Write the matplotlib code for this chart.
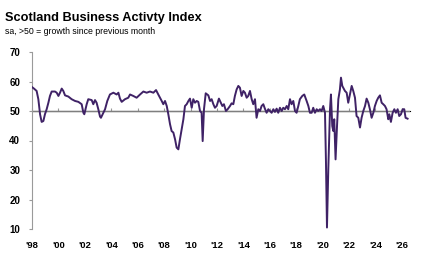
import matplotlib.pyplot as plt

# Scotland business activity index (decimal year, index value)
years = [
    1998.00, 1998.15, 1998.35, 1998.48, 1998.61, 1998.73, 1998.86, 1998.98, 1999.11, 1999.24,
    1999.36, 1999.49, 1999.74, 1999.87, 2000.00, 2000.12, 2000.25, 2000.37, 2000.50, 2000.75,
    2001.00, 2001.26, 2001.51, 2001.76, 2001.89, 2001.96, 2002.14, 2002.26, 2002.52, 2002.64,
    2002.77, 2002.89, 2003.02, 2003.15, 2003.22, 2003.35, 2003.53, 2003.70, 2003.90, 2004.16,
    2004.41, 2004.54, 2004.66, 2004.79, 2005.04, 2005.29, 2005.42, 2005.67, 2005.92, 2006.18,
    2006.43, 2006.68, 2006.93, 2007.19, 2007.39, 2007.56, 2007.82, 2007.94, 2008.07, 2008.20,
    2008.32, 2008.45, 2008.57, 2008.70, 2008.83, 2008.95, 2009.08, 2009.20, 2009.33, 2009.46,
    2009.58, 2009.71, 2009.84, 2009.96, 2010.09, 2010.21, 2010.34, 2010.47, 2010.59, 2010.72,
    2010.84, 2010.92, 2011.02, 2011.15, 2011.35, 2011.48, 2011.60, 2011.73, 2011.85, 2011.98,
    2012.15, 2012.30, 2012.41, 2012.53, 2012.68, 2012.81, 2012.99, 2013.11, 2013.24, 2013.36,
    2013.49, 2013.62, 2013.74, 2013.87, 2014.00, 2014.12, 2014.25, 2014.37, 2014.50, 2014.63,
    2014.75, 2014.88, 2015.00, 2015.13, 2015.26, 2015.38, 2015.51, 2015.63, 2015.76, 2015.89,
    2016.01, 2016.14, 2016.27, 2016.39, 2016.52, 2016.64, 2016.77, 2016.90, 2017.02, 2017.15,
    2017.28, 2017.40, 2017.53, 2017.65, 2017.78, 2017.91, 2018.03, 2018.16, 2018.28, 2018.46,
    2018.61, 2018.79, 2018.92, 2019.04, 2019.17, 2019.29, 2019.42, 2019.55, 2019.67, 2019.80,
    2019.92, 2020.05, 2020.18, 2020.25, 2020.33, 2020.43, 2020.56, 2020.63, 2020.73, 2020.81,
    2020.88, 2020.98, 2021.09, 2021.19, 2021.31, 2021.39, 2021.49, 2021.56, 2021.69, 2021.82,
    2021.94, 2022.07, 2022.20, 2022.32, 2022.45, 2022.57, 2022.70, 2022.83, 2022.95, 2023.08,
    2023.21, 2023.33, 2023.46, 2023.58, 2023.71, 2023.84, 2023.96, 2024.09, 2024.21, 2024.34,
    2024.47, 2024.59, 2024.72, 2024.84, 2024.97, 2025.05, 2025.17, 2025.30, 2025.43, 2025.55,
    2025.68, 2025.80, 2025.93, 2026.06, 2026.18, 2026.28, 2026.43,
]
index = [
    58.1, 57.6, 56.8, 54.0, 48.9, 46.3, 46.6, 48.9, 50.6, 52.8,
    55.1, 56.6, 56.6, 56.2, 55.1, 56.2, 57.6, 56.8, 55.3, 54.9,
    54.0, 53.4, 53.1, 52.3, 49.4, 48.9, 52.3, 54.0, 53.7, 52.3,
    53.7, 52.8, 50.6, 48.1, 47.7, 48.9, 50.6, 53.4, 55.6, 56.2,
    55.6, 56.2, 54.2, 53.1, 54.0, 54.5, 55.6, 55.1, 54.5, 55.6,
    56.6, 56.2, 56.6, 56.2, 57.1, 55.6, 53.4, 52.3, 53.4, 51.7,
    48.9, 45.5, 43.2, 42.7, 40.4, 37.6, 37.0, 40.4, 43.8, 47.2,
    51.7, 52.3, 53.4, 54.2, 51.1, 54.0, 52.8, 53.4, 53.1, 50.0,
    49.4, 39.8, 50.6, 56.0, 55.3, 53.4, 54.0, 52.3, 51.1, 51.7,
    54.2, 52.8, 51.7, 52.3, 50.0, 50.6, 51.7, 52.6, 52.3, 55.1,
    57.3, 58.5, 57.9, 55.1, 56.8, 56.2, 54.5, 55.1, 56.8, 54.0,
    52.3, 54.0, 47.7, 50.6, 50.0, 51.7, 52.3, 50.8, 49.4, 50.6,
    50.0, 49.4, 50.6, 49.7, 50.8, 49.4, 51.1, 50.0, 51.1, 50.6,
    51.7, 50.6, 54.0, 52.3, 53.4, 50.0, 49.4, 51.7, 54.0, 55.1,
    55.6, 53.4, 51.7, 49.4, 49.4, 51.1, 49.4, 50.6, 50.0, 50.6,
    50.0, 51.7, 49.4, 33.6, 10.5, 30.2, 50.6, 55.6, 44.9, 43.2,
    47.2, 33.6, 44.9, 54.0, 57.3, 61.3, 58.5, 57.9, 56.8, 56.2,
    52.8, 55.6, 58.5, 56.8, 54.5, 48.3, 47.7, 44.4, 47.7, 50.0,
    51.7, 54.2, 52.8, 50.6, 47.7, 49.4, 51.7, 53.4, 54.5, 55.3,
    52.8, 52.3, 51.7, 50.6, 47.2, 48.9, 46.3, 49.4, 50.6, 49.4,
    50.6, 48.3, 48.9, 50.6, 50.6, 47.7, 47.4,
]

tick_years = list(range(1998, 2027, 2))
tick_labels = ["'" + str(y)[2:] for y in tick_years]
y_ticks = [10, 20, 30, 40, 50, 60, 70]

axis_grey = "#9a9a9a"
line_col = "#3f2266"

fig = plt.figure(figsize=(4.23, 2.75), dpi=100)
ax = fig.add_axes([32 / 423, 1 - 229 / 275, 377.8 / 423, 177 / 275])

ax.plot(years, index, color=line_col, lw=1.4, solid_joinstyle="round", zorder=3)
ax.axhline(50, color="#7f7f7f", lw=1.0, zorder=2)

ax.set_xlim(1998, 2026.6)
ax.set_ylim(10, 70)

for s in ["top", "right", "bottom"]:
    ax.spines[s].set_visible(False)
ax.spines["left"].set_color(axis_grey)
ax.spines["left"].set_linewidth(0.8)

ax.set_yticks(y_ticks)
ax.set_yticklabels([str(v) for v in y_ticks], fontsize=7, fontweight="bold",
                   family="Liberation Sans")
ax.tick_params(axis="y", length=2.5, width=0.8, color=axis_grey, pad=6)

ax.set_xticks(tick_years)
ax.set_xticklabels(tick_labels, fontsize=6.8, fontweight="bold", family="Liberation Sans")
ax.tick_params(axis="x", length=0, pad=9)

# tick marks sit on the 50 line
sec = ax.secondary_xaxis((50 - 10) / 60)
sec.set_xticks(tick_years)
sec.set_xticklabels([])
sec.tick_params(axis="x", length=2.5, width=0.8, color=axis_grey)
sec.spines["bottom"].set_visible(False)

fig.text(5 / 423, 1 - 18 / 275, "Scotland Business Activty Index", fontsize=9.2,
         fontweight="bold", family="Liberation Sans", va="center", ha="left")
fig.text(5 / 423, 1 - 32 / 275, "sa, >50 = growth since previous month", fontsize=6.3,
         family="Liberation Sans", va="center", ha="left")

fig.savefig("out.png", dpi=100)
